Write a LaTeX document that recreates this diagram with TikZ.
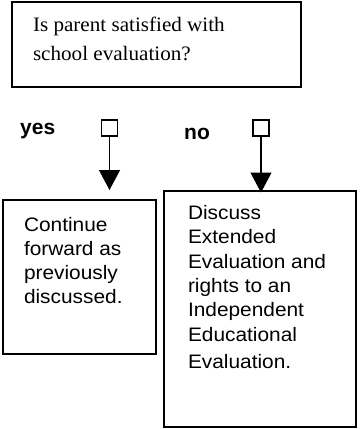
\documentclass[tikz,border=0pt]{standalone}
\usepackage{fontspec}
\setmainfont{Liberation Serif}
\newfontfamily\bodyfont[FakeStretch=1.07]{Liberation Sans}
\newfontfamily\serifw[FakeStretch=1.03]{Liberation Serif}
\newfontfamily\labfont{Liberation Sans}
\usetikzlibrary{arrows.meta}
\tikzset{
  boxnode/.style={draw=black, line width=1.4pt, inner sep=0pt, fill=none},
  sqnode/.style={draw=black, line width=1.2pt, inner sep=0pt, minimum size=16pt},
  txtnode/.style={anchor=base west, inner sep=0pt, outer sep=0pt},
  labnode/.style={anchor=base west, inner sep=0pt, font=\labfont\bfseries\fontsize{21}{21}\selectfont},
  arr/.style={line width=1.2pt, -{Triangle[width=21pt,length=20pt]}}
}
\begin{document}
\begin{tikzpicture}[x=1pt,y=-1pt]
\useasboundingbox (0,0) rectangle (362,429);
% top question box
\node[boxnode, minimum width=289pt, minimum height=85pt] (q) at (156.5,44.5) {};
\node[txtnode] (qtext) at (33,31.7) {\parbox[t]{260pt}{\serifw\fontsize{20.5}{28.3}\selectfont Is parent satisfied with\\school evaluation?}};
% labels
\node[labnode] (yes) at (20,134) {yes};
\node[labnode] (no) at (184,139) {no};
% squares
\node[sqnode] (sqL) at (109.5,128) {};
\node[sqnode] (sqR) at (261,128) {};
% arrow end points
\coordinate (tipL) at (109.5,190);
\coordinate (tipR) at (261,192.5);
\draw[arr] (sqL.south) -- (tipL);
\draw[arr] (sqR.south) -- (tipR);
% answer boxes
\node[boxnode, minimum width=153pt, minimum height=154pt] (boxL) at (79.5,277) {};
\node[txtnode] (ltext) at (24,231) {\parbox[t]{130pt}{\bodyfont\fontsize{19.5}{24.3}\selectfont Continue\\forward as\\previously\\discussed.}};
\node[boxnode, minimum width=192pt, minimum height=236pt] (boxR) at (260,309) {};
\node[txtnode] (rtext) at (188,219.5) {\parbox[t]{165pt}{\bodyfont\fontsize{19.5}{24.3}\selectfont Discuss\\Extended\\Evaluation and\\rights to an\\Independent\\Educational\\[3.3pt]Evaluation.}};
\end{tikzpicture}
\end{document}
